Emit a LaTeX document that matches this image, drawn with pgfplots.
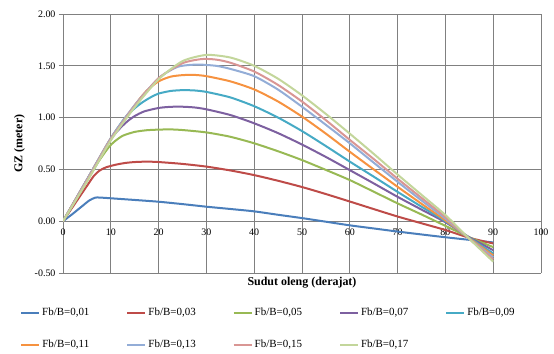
\documentclass[border=0pt]{standalone}
\usepackage{pgfplots}
\pgfplotsset{compat=1.18}
\usepackage{fontspec}
\setmainfont{Liberation Serif}
\definecolor{c1}{RGB}{74,126,187}
\definecolor{c2}{RGB}{190,75,72}
\definecolor{c3}{RGB}{152,185,84}
\definecolor{c4}{RGB}{125,96,160}
\definecolor{c5}{RGB}{70,170,197}
\definecolor{c6}{RGB}{246,146,64}
\definecolor{c7}{RGB}{147,173,215}
\definecolor{c8}{RGB}{217,150,148}
\definecolor{c9}{RGB}{195,214,155}
\definecolor{gridc}{RGB}{128,128,128}
\begin{document}
\begin{tikzpicture}
\useasboundingbox (0,0) rectangle (554bp,354bp);
\begin{axis}[
  at={(63bp,81bp)}, anchor=south west,
  scale only axis, width=478bp, height=259bp,
  xmin=0, xmax=100, ymin=-0.5, ymax=2,
  xtick={0,10,...,100}, ytick={-0.5,0,0.5,1,1.5,2},
  axis x line*=middle, axis y line*=left,
  hide obscured x ticks=false, hide obscured y ticks=false,
  axis line style={gridc, line width=0.8bp},
  grid=major, major grid style={gridc, line width=0.8bp},
  tick style={gridc, line width=0.8bp},
  tick align=outside, major tick length=4bp,
  /pgf/number format/assume math mode=true,
  yticklabel style={/pgf/number format/fixed, /pgf/number format/zerofill, /pgf/number format/precision=2, font=\fontsize{10}{12}\selectfont},
  xticklabel style={font=\fontsize{10}{12}\selectfont},
  ylabel={\textbf{GZ (meter)}},
  ylabel shift=3bp,
  ylabel style={font=\fontsize{12}{14}\selectfont},
  xlabel={\textbf{Sudut oleng (derajat)}},
  xlabel style={at={(axis description cs:0.5,0)}, anchor=north, yshift=-1bp, font=\fontsize{12}{14}\selectfont},
  legend columns=5,
  legend style={at={(axis description cs:0,0)}, anchor=north west, xshift=-43bp, yshift=-33bp,
    draw=none, fill=none, inner sep=0pt, font=\fontsize{11}{13}\selectfont, row sep=19bp,
    /tikz/every even column/.append style={column sep=35bp}},
  legend image code/.code={\draw[#1, line width=2bp] (0bp,0bp) -- (18bp,0bp);},
  every axis plot/.append style={line width=2bp, smooth, tension=0.4},
]
\addplot[c1] coordinates {(0,0)(2,0.07)(4,0.145)(5.5,0.2)(6.8,0.228)(8.5,0.226)(11,0.218)(15,0.205)(20,0.188)(25,0.165)(30,0.14)(35,0.118)(40,0.095)(45,0.062)(50,0.03)(55,-0.005)(60,-0.04)(65,-0.07)(70,-0.1)(75,-0.128)(80,-0.155)(85,-0.18)(90,-0.205)};
\addlegendentry{Fb/B=0,01}
\addplot[c2] coordinates {(0,0)(2.5,0.17)(5,0.34)(6.5,0.44)(7.7,0.49)(9,0.52)(11,0.545)(13,0.562)(15,0.571)(17.5,0.575)(20,0.571)(25,0.553)(30,0.527)(35,0.49)(40,0.445)(45,0.39)(50,0.33)(55,0.262)(60,0.19)(65,0.117)(70,0.045)(75,-0.02)(80,-0.085)(85,-0.16)(90,-0.215)};
\addlegendentry{Fb/B=0,03}
\addplot[c3] coordinates {(0,0)(2.5,0.19)(5,0.39)(7.5,0.58)(9.5,0.71)(10.8,0.77)(12.5,0.825)(15,0.862)(17.5,0.878)(20,0.884)(22.5,0.886)(25,0.88)(30,0.857)(35,0.815)(40,0.752)(45,0.675)(50,0.59)(55,0.495)(60,0.397)(65,0.285)(70,0.172)(75,0.065)(80,-0.045)(85,-0.155)(90,-0.25)};
\addlegendentry{Fb/B=0,05}
\addplot[c4] coordinates {(0,0)(5,0.4)(10,0.79)(12,0.9)(13.5,0.965)(15,1.015)(17,1.06)(20,1.093)(22.5,1.104)(25,1.105)(27.5,1.098)(30,1.08)(35,1.025)(40,0.945)(45,0.85)(50,0.74)(55,0.62)(60,0.493)(65,0.365)(70,0.235)(75,0.112)(80,-0.01)(85,-0.155)(90,-0.28)};
\addlegendentry{Fb/B=0,07}
\addplot[c5] coordinates {(0,0)(5,0.4)(10,0.8)(13,1.0)(15,1.09)(16.7,1.15)(18.5,1.2)(20,1.232)(22.5,1.257)(25,1.265)(27.5,1.262)(30,1.248)(35,1.195)(40,1.11)(45,1.0)(50,0.87)(55,0.725)(60,0.575)(65,0.43)(70,0.283)(75,0.14)(80,0.0)(85,-0.16)(90,-0.31)};
\addlegendentry{Fb/B=0,09}
\addplot[c6] coordinates {(0,0)(5,0.4)(10,0.8)(15,1.12)(17.5,1.26)(20,1.35)(22.5,1.395)(25,1.41)(27.5,1.412)(30,1.4)(35,1.35)(40,1.272)(45,1.155)(50,1.01)(55,0.845)(60,0.67)(65,0.5)(70,0.332)(75,0.168)(80,0.008)(85,-0.165)(90,-0.33)};
\addlegendentry{Fb/B=0,11}
\addplot[c7] coordinates {(0,0)(5,0.4)(10,0.8)(15,1.12)(20,1.38)(24,1.49)(28,1.512)(32,1.5)(35,1.47)(40,1.4)(45,1.27)(50,1.105)(55,0.93)(60,0.752)(65,0.565)(70,0.38)(75,0.2)(80,0.025)(85,-0.17)(90,-0.35)};
\addlegendentry{Fb/B=0,13}
\addplot[c8] coordinates {(0,0)(5,0.39)(10,0.79)(15,1.11)(20,1.38)(25,1.525)(29,1.565)(32,1.56)(35,1.53)(40,1.445)(45,1.315)(50,1.155)(55,0.975)(60,0.785)(65,0.6)(70,0.41)(75,0.225)(80,0.04)(85,-0.17)(90,-0.37)};
\addlegendentry{Fb/B=0,15}
\addplot[c9] coordinates {(0,0)(5,0.38)(10,0.78)(15,1.1)(20,1.37)(25,1.545)(30,1.605)(35,1.58)(40,1.5)(45,1.375)(50,1.215)(55,1.035)(60,0.845)(65,0.65)(70,0.45)(75,0.255)(80,0.06)(85,-0.17)(90,-0.39)};
\addlegendentry{Fb/B=0,17}
\end{axis}
\end{tikzpicture}
\end{document}
